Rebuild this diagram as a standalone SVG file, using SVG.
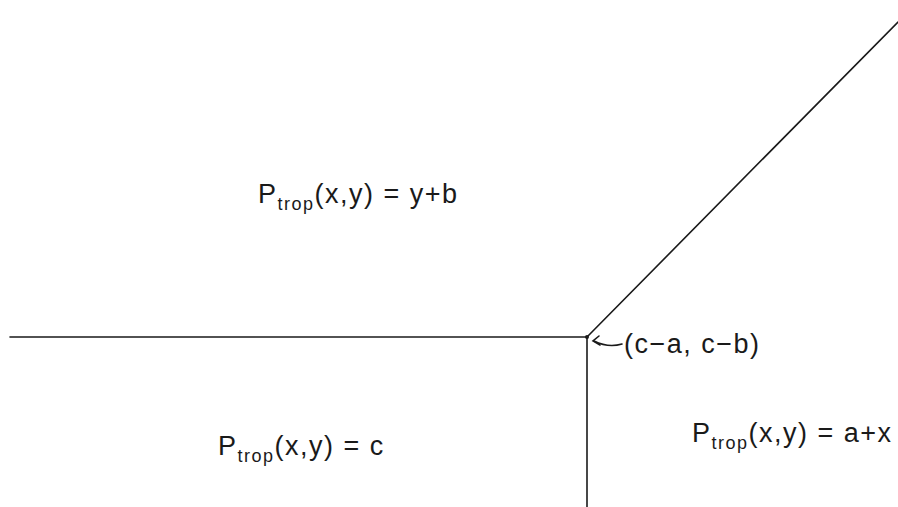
<svg xmlns="http://www.w3.org/2000/svg" width="898" height="507" viewBox="0 0 898 507">
<style>
.ln{stroke:#1a1a1a;stroke-width:1.6;fill:none;stroke-linecap:round}
.t{font-family:"Liberation Sans","DejaVu Sans",sans-serif;font-size:27px;fill:#1a1a1a;letter-spacing:1.5px}
.s{font-size:18px}
</style>
<rect width="898" height="507" fill="#ffffff"/>
<g id="connectors">
<line class="ln" x1="10" y1="337" x2="587" y2="337"/>
<line class="ln" x1="587" y1="337" x2="587" y2="507"/>
<line class="ln" x1="587" y1="337" x2="898" y2="22"/>
<circle cx="587" cy="337" r="2" fill="#1a1a1a"/>
<path class="ln" d="M622,344 C612,347 602,345 594,341"/>
<path class="ln" d="M599,336 L593,341 L600,345"/>
</g>
<g id="region-top">
<text class="t" x="258" y="203">P<tspan class="s" dy="7">trop</tspan><tspan dy="-7">(x,y) = y+b</tspan></text>
</g>
<g id="region-left">
<text class="t" x="218" y="455">P<tspan class="s" dy="7">trop</tspan><tspan dy="-7">(x,y) = c</tspan></text>
</g>
<g id="region-right">
<text class="t" x="692" y="442">P<tspan class="s" dy="7">trop</tspan><tspan dy="-7">(x,y) = a+x</tspan></text>
</g>
<g id="vertex-label">
<text class="t" x="624" y="353">(c−a, c−b)</text>
</g>
</svg>
